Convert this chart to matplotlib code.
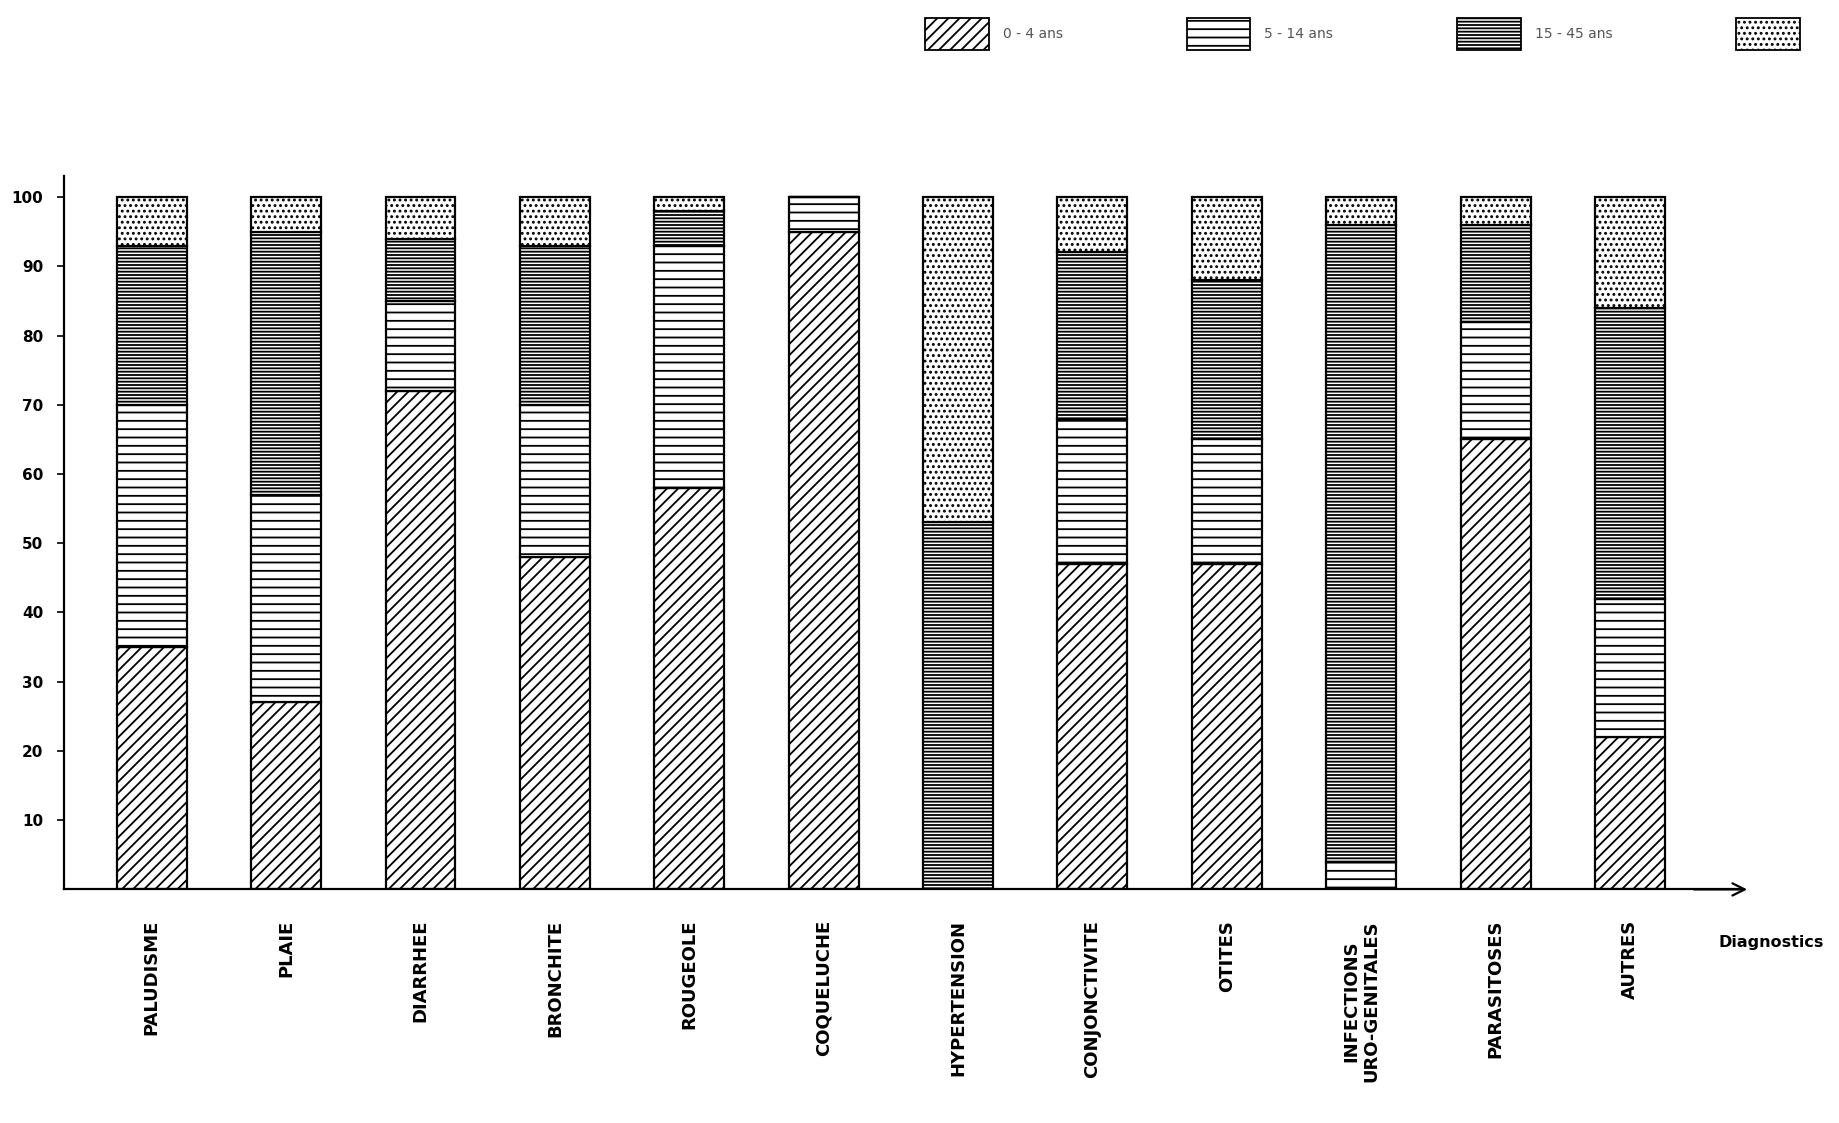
import matplotlib
matplotlib.use("Agg")
import matplotlib.pyplot as plt
from matplotlib.patches import Patch
import numpy as np

# ---- data (percent of consultations by age group) ----
categories = ["PALUDISME", "PLAIE", "DIARRHEE", "BRONCHITE", "ROUGEOLE",
              "COQUELUCHE", "HYPERTENSION", "CONJONCTIVITE", "OTITES",
              "INFECTIONS\nURO-GENITALES", "PARASITOSES", "AUTRES"]
age_0_4   = [35, 27, 72, 48, 58, 95, 0, 47, 47, 0, 65, 22]
age_5_14  = [35, 30, 13, 22, 35, 5, 0, 21, 18, 4, 17, 20]
age_15_45 = [23, 38, 9, 23, 5, 0, 53, 24, 23, 92, 14, 42]
age_45p   = [7, 5, 6, 7, 2, 0, 47, 8, 12, 4, 4, 16]
series_labels = ["0 - 4 ans", "5 - 14 ans", "15 - 45 ans", ""]
yticks = [10, 20, 30, 40, 50, 60, 70, 80, 90, 100]

plt.rcParams["hatch.linewidth"] = 1.3
plt.rcParams["font.family"] = ["DejaVu Sans"]

fig = plt.figure(figsize=(18.39, 11.23), dpi=100)
ax = fig.add_axes([0.035, 0.208, 0.912, 0.635])

x = np.arange(len(categories))
series = [age_0_4, age_5_14, age_15_45, age_45p]
hatches = ["///", "--", "-----", "..."]
width = 0.52
bottom = np.zeros(len(categories))
handles = []
for vals, h, lab in zip(series, hatches, series_labels):
    vals = np.array(vals, dtype=float)
    ax.bar(x, vals, width, bottom=bottom, facecolor="white",
           edgecolor="black", linewidth=1.6, hatch=h)
    bottom += vals
    handles.append(Patch(facecolor="white", edgecolor="black",
                         linewidth=1.3, hatch=h, label=lab))

ax.set_xlim(-0.65, 11.83)
ax.set_ylim(0, 103)
ax.set_yticks(yticks)
ax.set_yticklabels([str(v) for v in yticks], fontsize=11, fontweight="bold")
ax.set_xticks(x)
ax.set_xticklabels(categories, rotation=90, fontsize=13, fontweight="bold",
                   va="top", ha="center", linespacing=1.1)
ax.tick_params(axis="x", length=0, pad=22)
ax.tick_params(axis="y", length=5, width=1.2, pad=10, direction="out")

for s in ["top", "right"]:
    ax.spines[s].set_visible(False)
ax.spines["left"].set_linewidth(1.6)
ax.spines["bottom"].set_linewidth(1.6)

ax.annotate("", xy=(1.005, 0), xytext=(0.97, 0), xycoords="axes fraction",
            arrowprops=dict(arrowstyle="->", lw=1.6, color="black",
                            mutation_scale=22))
fig.text(0.963, 0.161, "Diagnostics", fontsize=11.5, fontweight="bold",
         ha="center", va="center")

leg = fig.legend(handles=handles, labels=series_labels, loc="upper right",
                 bbox_to_anchor=(0.993, 0.995), ncol=4, frameon=False,
                 fontsize=10, handlelength=4.6, handleheight=3.2,
                 columnspacing=8.9, handletextpad=1.0)
for t in leg.get_texts():
    t.set_color("#555555")

fig.savefig("out.png", dpi=100, facecolor="white")
